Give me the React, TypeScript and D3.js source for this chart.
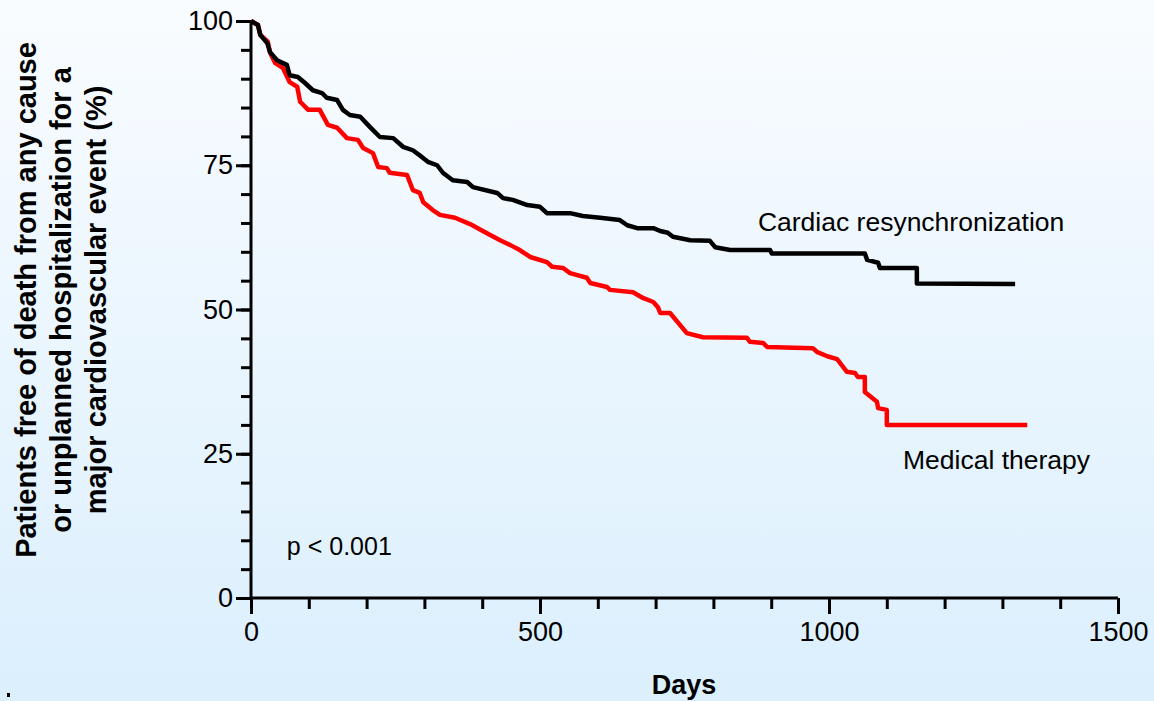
import * as d3 from "d3";
import { useEffect, useRef } from "react";

// Kaplan-Meier curves: [day, % event-free]
const crtCurve: [number, number][] = [
  [0, 100], [12, 99.3], [16, 97.6], [28, 96.2], [33, 94.6], [45, 93.2], [62, 92.4],
  [67, 90.6], [81, 90.3], [93, 89.3], [107, 88.0], [123, 87.5], [131, 86.7], [149, 86.3],
  [159, 84.6], [171, 83.7], [189, 83.4], [206, 81.6], [223, 79.9], [246, 79.7], [263, 78.2],
  [280, 77.6], [296, 76.4], [306, 75.6], [322, 75.0], [332, 73.7], [349, 72.4], [374, 72.1],
  [384, 71.2], [426, 70.2], [436, 69.3], [453, 69.0], [478, 68.1], [500, 67.8], [512, 66.7],
  [552, 66.7], [574, 66.2], [604, 65.9], [638, 65.5], [651, 64.6], [668, 64.1], [696, 64.1],
  [708, 63.6], [721, 63.3], [730, 62.6], [760, 62.0], [794, 61.9], [803, 60.8], [829, 60.3],
  [898, 60.3], [901, 59.7], [1062, 59.7], [1066, 58.6], [1085, 58.1], [1088, 57.2],
  [1152, 57.2], [1152, 54.5], [1322, 54.4],
];

const medCurve: [number, number][] = [
  [0, 100], [12, 99.3], [16, 97.6], [29, 96.4], [33, 94.5], [42, 92.7], [55, 91.9],
  [67, 89.4], [80, 88.6], [85, 86.0], [99, 84.6], [119, 84.6], [133, 82.0], [149, 81.5],
  [166, 79.7], [185, 79.4], [194, 78.0], [211, 77.1], [220, 74.7], [235, 74.5], [240, 73.7],
  [270, 73.3], [280, 70.7], [292, 70.2], [298, 68.6], [315, 67.2], [327, 66.4], [353, 65.9],
  [379, 64.8], [405, 63.4], [431, 62.0], [448, 61.2], [465, 60.3], [483, 59.1], [512, 58.2],
  [521, 57.4], [540, 57.2], [552, 56.3], [581, 55.5], [587, 54.6], [616, 53.9], [621, 53.4],
  [661, 53.0], [678, 52.0], [696, 51.3], [704, 50.4], [708, 49.4], [725, 49.4], [754, 45.9],
  [782, 45.2], [858, 45.1], [863, 44.4], [886, 44.2], [893, 43.5], [972, 43.3], [980, 42.6],
  [997, 41.9], [1014, 41.4], [1031, 39.2], [1045, 39.0], [1050, 38.3], [1062, 38.3],
  [1062, 35.7], [1083, 34.0], [1085, 32.9], [1100, 32.6], [1100, 30.0], [1343, 30.0],
];

const xMajorTicks = [0, 500, 1000, 1500];
const xMinorTicks = d3.range(0, 1501, 100);
const yMajorTicks = [0, 25, 50, 75, 100];
const yMinorTicks = d3.range(0, 101, 5);

const yTitleLines = [
  "Patients free of death from any cause",
  "or unplanned hospitalization for a",
  "major cardiovascular event (%)",
];

// curve labels placed in data units
const curveLabels = [
  { text: "Cardiac resynchronization", day: 877, value: 63.6, size: 26.5 },
  { text: "Medical therapy", day: 1128, value: 22.3, size: 26.5 },
  { text: "p < 0.001", day: 62, value: 7.5, size: 25 },
];

const W = 1154;
const H = 701;
const FONT = "Arial, 'Liberation Sans', sans-serif";

const App = () => {
  const ref = useRef<SVGSVGElement>(null);

  useEffect(() => {
    const svg = d3.select(ref.current);
    svg.selectAll("*").remove();

    const x = d3.scaleLinear().domain([0, 1500]).range([251, 1118]);
    const y = d3.scaleLinear().domain([0, 100]).range([598, 21]);

    const defs = svg.append("defs");
    const grad = defs.append("linearGradient")
      .attr("id", "bg").attr("x1", 0).attr("y1", 0).attr("x2", 0).attr("y2", 1);
    grad.append("stop").attr("offset", "0%").attr("stop-color", "#f9fcff");
    grad.append("stop").attr("offset", "100%").attr("stop-color", "#dbeffd");
    svg.append("rect").attr("width", W).attr("height", H).attr("fill", "url(#bg)");

    // tiny artifact in the corner
    svg.append("rect").attr("x", 7).attr("y", 693).attr("width", 3).attr("height", 4).attr("fill", "#000");

    // minor ticks
    svg.append("g")
      .attr("transform", `translate(0, ${y(0)})`)
      .call(d3.axisBottom(x).tickValues(xMinorTicks).tickSize(11).tickFormat(() => ""))
      .call(g => g.select(".domain").remove())
      .call(g => g.selectAll("line").attr("stroke-width", 3));
    svg.append("g")
      .attr("transform", `translate(${x(0)}, 0)`)
      .call(d3.axisLeft(y).tickValues(yMinorTicks).tickSize(10).tickFormat(() => ""))
      .call(g => g.select(".domain").remove())
      .call(g => g.selectAll("line").attr("stroke-width", 3));

    // major ticks with labels
    svg.append("g")
      .attr("transform", `translate(0, ${y(0)})`)
      .call(d3.axisBottom(x).tickValues(xMajorTicks).tickSize(16).tickPadding(8).tickFormat(d3.format("d")))
      .call(g => g.select(".domain").remove())
      .call(g => g.selectAll("line").attr("stroke-width", 3))
      .call(g => g.selectAll("text").attr("font-size", 27).attr("font-family", FONT).attr("fill", "#000"));
    svg.append("g")
      .attr("transform", `translate(${x(0)}, 0)`)
      .call(d3.axisLeft(y).tickValues(yMajorTicks).tickSize(15).tickPadding(3))
      .call(g => g.select(".domain").remove())
      .call(g => g.selectAll("line").attr("stroke-width", 3))
      .call(g => g.selectAll("text").attr("font-size", 27).attr("font-family", FONT).attr("fill", "#000"));

    // axis lines
    svg.append("line")
      .attr("x1", x(0)).attr("x2", x(1500)).attr("y1", y(0)).attr("y2", y(0))
      .attr("stroke", "#000").attr("stroke-width", 3);
    svg.append("line")
      .attr("x1", x(0)).attr("x2", x(0)).attr("y1", y(0)).attr("y2", y(100))
      .attr("stroke", "#000").attr("stroke-width", 3);

    // curves
    const line = d3.line<[number, number]>()
      .x(d => x(d[0]))
      .y(d => y(d[1]));

    svg.append("path")
      .datum(medCurve)
      .attr("d", line)
      .attr("fill", "none")
      .attr("stroke", "#ff0000")
      .attr("stroke-width", 4.5)
      .attr("stroke-linejoin", "round");
    svg.append("path")
      .datum(crtCurve)
      .attr("d", line)
      .attr("fill", "none")
      .attr("stroke", "#000")
      .attr("stroke-width", 4.5)
      .attr("stroke-linejoin", "round");

    // labels
    svg.selectAll(".curve-label")
      .data(curveLabels)
      .enter()
      .append("text")
      .attr("x", d => x(d.day))
      .attr("y", d => y(d.value))
      .attr("font-family", FONT)
      .attr("font-size", d => d.size)
      .text(d => d.text);

    svg.append("text")
      .attr("x", 684)
      .attr("y", 694)
      .attr("text-anchor", "middle")
      .attr("font-family", FONT)
      .attr("font-weight", "bold")
      .attr("font-size", 27)
      .text("Days");

    svg.selectAll(".ytitle")
      .data(yTitleLines)
      .enter()
      .append("text")
      .attr("transform", (d, i) => `translate(${36 + i * 35}, 300) rotate(-90)`)
      .attr("text-anchor", "middle")
      .attr("font-family", FONT)
      .attr("font-weight", "bold")
      .attr("font-size", 29)
      .text(d => d);
  }, []);

  return (
    <div style={{ position: "absolute", left: 0, top: 0 }}>
      <svg ref={ref} width={W} height={H} style={{ display: "block" }}></svg>
    </div>
  );
};

export default App;
